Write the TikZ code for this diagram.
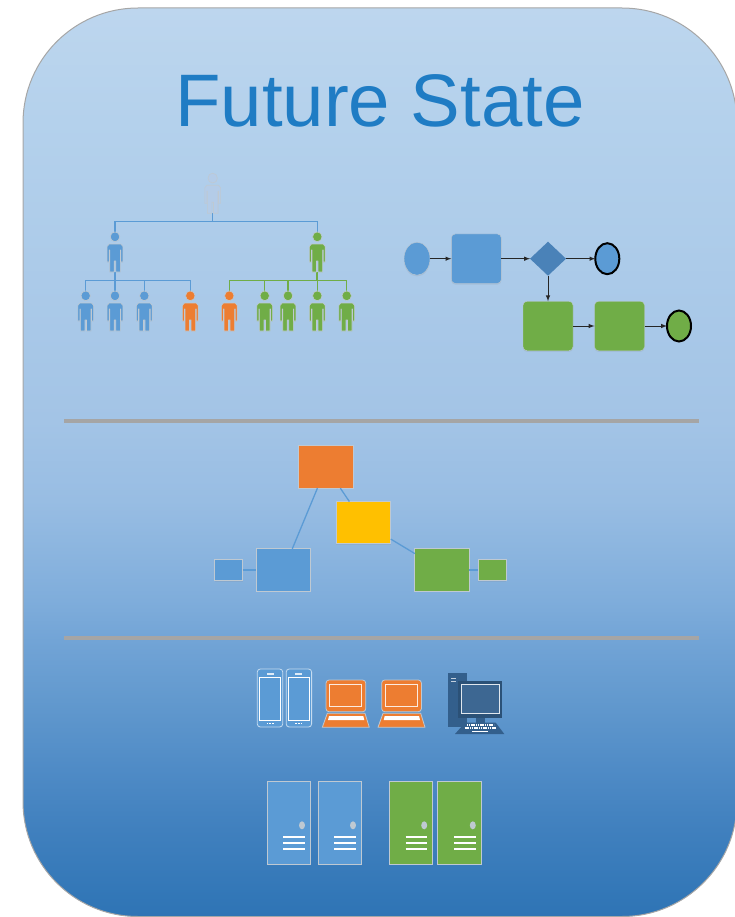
\documentclass[tikz,border=0pt]{standalone}
\usepackage{fontspec}
\setmainfont{Liberation Sans}
\usepackage{tikz}
\usetikzlibrary{positioning, shapes.geometric, arrows, shadows}

\definecolor{bluefill}{HTML}{5B9BD5}
\definecolor{greenfill}{HTML}{70AD47}
\definecolor{orangefill}{HTML}{ED7D31}
\definecolor{yellowfill}{HTML}{FFC000}
\definecolor{paleperson}{HTML}{B4CCE8}
\definecolor{darkdiamond}{HTML}{4A82B8}
\definecolor{darkpc}{HTML}{335F8C}
\definecolor{titleblue}{HTML}{1F7CC4}
\definecolor{rulegray}{HTML}{A5A5A5}
\definecolor{softedge}{HTML}{BFC9D2}
\definecolor{fadea}{HTML}{2E74B5}
\definecolor{fadeb}{HTML}{4080BE}
\definecolor{fadec}{HTML}{4F8BC6}
\definecolor{faded}{HTML}{6299CE}
\definecolor{fadee}{HTML}{72A4D6}
\definecolor{fadef}{HTML}{7FADDB}
\definecolor{fadeg}{HTML}{98BDE3}
\definecolor{fadeh}{HTML}{A3C4E6}
\definecolor{fadei}{HTML}{B4D1EC}
\definecolor{fadej}{HTML}{BDD6EE}

\pgfdeclareverticalshading{panelfade}{100bp}{
  color(0bp)=(fadea); color(25bp)=(fadea);
  color(29.8bp)=(fadeb); color(33.1bp)=(fadec);
  color(36.9bp)=(faded); color(40.2bp)=(fadee);
  color(42.4bp)=(fadef); color(47.9bp)=(fadeg);
  color(52.3bp)=(fadeh); color(68.8bp)=(fadei);
  color(75bp)=(fadej); color(100bp)=(fadej)}

\tikzset{
  softshadow/.style={drop shadow={opacity=0.15,shadow xshift=0pt,shadow yshift=-1.2pt}},
  personbox/.style={minimum width=15pt,minimum height=40pt,inner sep=0pt,outer sep=0pt},
  flowbox/.style={rectangle,rounded corners=4pt,draw=softedge,softshadow,minimum width=50pt,minimum height=49.5pt,inner sep=0pt,outer sep=0pt},
  flowstart/.style={ellipse,draw=softedge,fill=bluefill,softshadow,minimum width=26pt,minimum height=33pt,inner sep=0pt,outer sep=0pt},
  flowend/.style={ellipse,draw=black,line width=2pt,minimum width=24pt,minimum height=31pt,inner sep=0pt,outer sep=0pt},
  sysbox/.style={rectangle,draw=softedge,line width=1pt,softshadow,inner sep=0pt,outer sep=0pt},
  bigsys/.style={sysbox,minimum width=54.5pt,minimum height=42.3pt},
  smallsys/.style={sysbox,minimum width=27.7pt,minimum height=21.4pt},
  flowarrow/.style={draw=black!85,line width=1pt,-latex},
  blueline/.style={draw=bluefill,line width=1.3pt},
  greenline/.style={draw=greenfill,line width=1.3pt},
  rule/.style={draw=rulegray},
  pics/person/.style={code={
    \fill[#1,draw=softedge,line width=0.6pt] (0,4.8) ellipse [x radius=4.7, y radius=4.9];
    \draw[fill=#1,draw=softedge,line width=0.6pt,line join=round] (-7.9,14.5) -- (-5.8,12) -- (5.8,12) -- (7.9,14.5) -- (7.9,30) -- (5.9,30) -- (5.9,18) -- (5.3,18) -- (5.3,40) -- (0.8,40) -- (0.8,29) -- (-0.8,29) -- (-0.8,40) -- (-5.3,40) -- (-5.3,18) -- (-5.9,18) -- (-5.9,30) -- (-7.9,30) -- cycle;
  }},
  pics/phone/.style={code={
    \draw[fill=bluefill,draw=white!65!bluefill,line width=0.8pt,rounded corners=3pt] (0,0) rectangle (25.4,58);
    \draw[draw=white,line width=1pt] (2,8.3) rectangle (23.4,51);
    \fill[white!80!bluefill] (9.2,4.3) rectangle (16.2,5.7);
    \fill[white] (9.2,53.6) rectangle (10.8,55.2);
    \fill[white] (11.9,53.6) rectangle (13.5,55.2);
    \fill[white] (14.6,53.6) rectangle (16.2,55.2);
  }},
  pics/laptop/.style={code={
    \draw[fill=orangefill,draw=softedge,line width=0.8pt,rounded corners=3pt] (0,0) rectangle (39.7,31.7);
    \draw[draw=white!85!orangefill,line width=0.9pt] (3.3,4) rectangle (35.7,26.7);
    \draw[fill=orangefill,draw=softedge,line width=0.8pt,line join=round] (1.3,33.3) -- (39,33.3) -- (43.3,47.3) -- (-3.7,47.3) -- cycle;
    \fill[white] (3,36) -- (37.3,36) -- (38.3,40) -- (2,40) -- cycle;
  }},
  pics/server/.style={code={
    \draw[fill=#1,draw=softedge,line width=1pt] (0,0) rectangle (43.6,83.3);
    \fill[softedge] (35,44.3) ellipse [x radius=3, y radius=4];
    \draw[white,line width=1.8pt] (16.3,55.7) -- (37.7,55.7);
    \draw[white,line width=1.8pt] (16.3,62) -- (37.7,62);
    \draw[white,line width=1.8pt] (16.3,68.3) -- (37.7,68.3);
  }},
}

\begin{document}
\begin{tikzpicture}[x=1pt,y=-1pt]
\clip (0,0) rectangle (735,917);

% panel
\draw[draw=black!35,line width=1pt,shading=panelfade,rounded corners=115pt] (23,8) rectangle (737,916.5);
\node (title) at (380,127) [anchor=base,text=titleblue,font=\fontsize{74.4}{80}\selectfont,inner sep=0pt] {Future State};

% people
\node (top) at (212.7,193.3) [personbox] {};
\node (m1) at (115,252) [personbox] {};
\node (m2) at (317.3,252) [personbox] {};
\node (l1) at (85.7,311) [personbox] {};
\node (l2) at (115,311) [personbox] {};
\node (l3) at (144.3,311) [personbox] {};
\node (l4) at (190.3,311) [personbox] {};
\node (l5) at (229.3,311) [personbox] {};
\node (l6) at (264.7,311) [personbox] {};
\node (l7) at (288,311) [personbox] {};
\node (l8) at (317.3,311) [personbox] {};
\node (l9) at (346.7,311) [personbox] {};
\coordinate (bus1) at (212.7,221.7);
\coordinate (bus2) at (115,280.7);
\coordinate (bus3) at (317.3,280.7);

\draw[blueline] (top.south) -- (bus1);
\draw[blueline] (m1.north) |- (bus1);
\draw[blueline] (m2.north) |- (bus1);
\draw[blueline,line width=1.8pt] (m1.south) -- (bus2);
\draw[blueline] (l1.north) |- (bus2);
\draw[blueline] (l2.north) -- (bus2);
\draw[blueline] (l3.north) |- (bus2);
\draw[blueline] (l4.north) |- (bus2);
\draw[greenline,line width=1.8pt] (m2.south) -- (bus3);
\draw[greenline] (l5.north) |- (bus3);
\draw[greenline] (l6.north) |- (bus3);
\draw[greenline] (l7.north) |- (bus3);
\draw[greenline] (l8.north) -- (bus3);
\draw[greenline] (l9.north) |- (bus3);

\pic at (top.north) {person=paleperson};
\pic at (m1.north) {person=bluefill};
\pic at (m2.north) {person=greenfill};
\pic at (l1.north) {person=bluefill};
\pic at (l2.north) {person=bluefill};
\pic at (l3.north) {person=bluefill};
\pic at (l4.north) {person=orangefill};
\pic at (l5.north) {person=orangefill};
\pic at (l6.north) {person=greenfill};
\pic at (l7.north) {person=greenfill};
\pic at (l8.north) {person=greenfill};
\pic at (l9.north) {person=greenfill};

% process
\node (start) at (417,258.7) [flowstart] {};
\node (task) at (476.3,258.7) [flowbox,fill=bluefill] {};
\node (gate) at (548,258.7) [diamond,aspect=1.06,fill=darkdiamond,minimum width=36pt,minimum height=34pt,inner sep=0pt,outer sep=0pt] {};
\node (end1) at (607.3,258.7) [flowend,fill=bluefill] {};
\node (task2) at (548,326) [flowbox,fill=greenfill] {};
\node (task3) at (619.5,326) [flowbox,fill=greenfill] {};
\node (end2) at (679,326) [flowend,fill=greenfill] {};
\draw[flowarrow] (start) -- (task);
\draw[flowarrow] (task) -- (gate);
\draw[flowarrow] (gate) -- (end1);
\draw[flowarrow] (gate) -- (task2);
\draw[flowarrow] (task2) -- (task3);
\draw[flowarrow] (task3) -- (end2);

% separators
\coordinate (r1a) at (64,421);
\coordinate (r1b) at (699,421);
\coordinate (r2a) at (64,637.8);
\coordinate (r2b) at (699,637.8);
\draw[rule,line width=3.8pt] (r1a) -- (r1b);
\draw[rule,line width=3.4pt] (r2a) -- (r2b);

% systems
\node (orange) at (326.2,467) [bigsys,fill=orangefill] {};
\node (yellow) at (363.5,522.7) [bigsys,fill=yellowfill] {};
\node (blue) at (283.5,570) [bigsys,fill=bluefill] {};
\node (green) at (442.2,570) [bigsys,fill=greenfill] {};
\node (sblue) at (228.8,570) [smallsys,fill=bluefill] {};
\node (sgreen) at (492.2,570) [smallsys,fill=greenfill] {};
\draw[blueline] (orange) -- (blue);
\draw[blueline] (orange) -- (yellow);
\draw[blueline] (yellow) -- (green);
\draw[blueline,line width=1.8pt] (sblue) -- (blue);
\draw[blueline,line width=1.8pt] (green) -- (sgreen);

% devices
\pic at (257.3,669) {phone};
\pic at (286.2,669) {phone};
\pic at (326,680) {laptop};
\pic at (381.7,680) {laptop};
\fill[darkpc] (447.7,673.3) rectangle (466.7,726.7);
\draw[white!70!darkpc,line width=1.2pt] (451.3,678.5) -- (455.7,678.5);
\draw[white!70!darkpc,line width=1.2pt] (451.3,681.8) -- (455.7,681.8);
\fill[darkpc] (476,716) rectangle (484.5,724);
\draw[fill=darkpc!85!black,draw=darkpc!85!black,line width=0.5pt] (458.3,681) rectangle (501.7,717.3);
\draw[fill=darkpc!95!white,draw=white!85!darkpc,line width=0.9pt] (461,684) rectangle (499,713.3);
\fill[darkpc] (465,722.7) -- (495.7,722.7) -- (504.3,734) -- (455,734) -- cycle;
\draw[white,line width=1.2pt,dash pattern=on 1.2pt off 0.6pt] (467,725) -- (494,725);
\draw[white,line width=1.2pt,dash pattern=on 1.2pt off 0.6pt] (464.5,728) -- (496.5,728);
\draw[white,line width=1pt] (472,731) -- (488,731);

% servers
\pic at (267,781) {server=bluefill};
\pic at (318,781) {server=bluefill};
\pic at (389.2,781) {server=greenfill};
\pic at (437.8,781) {server=greenfill};
\end{tikzpicture}
\end{document}
